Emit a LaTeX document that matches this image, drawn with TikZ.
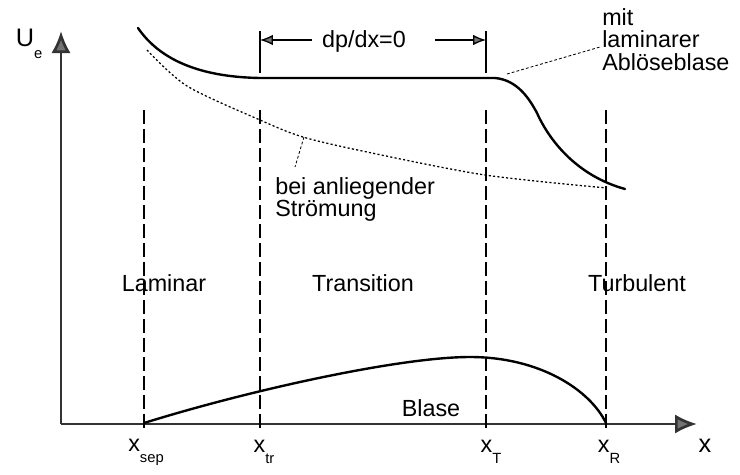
\documentclass[tikz,border=0pt]{standalone}
\usepackage{fontspec}
\setmainfont{Liberation Sans}
\usetikzlibrary{arrows.meta}

\newcommand{\lowsub}[1]{\raisebox{-0.9ex}{\fontsize{10.5}{11}\selectfont #1}}

\begin{document}
\begin{tikzpicture}[
  x=0.025cm, y=-0.025cm,
  font=\fontsize{16.6}{16}\selectfont,
  axis/.style={line width=1.9pt, draw=black!80,
               -{Latex[length=0.55cm, width=0.48cm, fill=black!55]}},
  curve/.style={line width=1.7pt, line cap=round},
  attached/.style={line width=0.9pt, dash pattern=on 1.5pt off 1.6pt},
  guide/.style={line width=0.9pt, dash pattern=on 10pt off 3.5pt},
  leader/.style={line width=0.6pt, dash pattern=on 2pt off 1.5pt},
  span/.style={line width=0.9pt, -{Latex[length=0.32cm, width=0.26cm, fill=black!55]}},
  lbl/.style={inner sep=0pt}
]
\useasboundingbox (0,0) rectangle (740,474);

% ── axes ─────────────────────────────────────────────────────────────────────
\coordinate (origin) at (61,424);
\coordinate (ytip)   at (61,31);
\coordinate (xtip)   at (697,424);
\draw[axis] (origin) -- (ytip);
\draw[axis] (origin) -- (xtip);
\node[lbl, font=\fontsize{18}{18}\selectfont] (ue) at (29,44) {U\lowsub{e}};
\node[lbl, font=\fontsize{18}{18}\selectfont] (xlab) at (705,446) {x};

% ── station lines ────────────────────────────────────────────────────────────
\foreach \nm/\xx in {sep/144, tr/260, T/486, R/606} {
  \coordinate (top\nm) at (\xx,110);
  \coordinate (bot\nm) at (\xx,432);
  \draw[guide] (top\nm) -- (bot\nm);
}
\node[lbl] (lsep) at (146,452) {x\lowsub{sep}};
\node[lbl] (ltr)  at (264,452) {x\lowsub{tr}};
\node[lbl] (lT)   at (491,452) {x\lowsub{T}};
\node[lbl] (lR)   at (609,452) {x\lowsub{R}};

% ── dp/dx=0 span ─────────────────────────────────────────────────────────────
\draw[line width=0.9pt] (260,31) -- (260,73);
\draw[line width=0.9pt] (486,31) -- (486,73);
\node[lbl] (dpdx) at (364,41) {dp/dx=0};
\coordinate (spanL) at (312,40);
\coordinate (spanR) at (435,40);
\draw[span] (spanL) -- (260,40);
\draw[span] (spanR) -- (486,40);

% ── edge velocity ────────────────────────────────────────────────────────────
\draw[curve] (138,28) .. controls (160,60) and (200,77) .. (260,78)
  -- (495,78) .. controls (518,80) and (530,100) .. (537,113)
  .. controls (550,142) and (578,176) .. (625,189);
\draw[attached] plot[smooth] coordinates {(147,50) (187,86) (260,120) (303,137)
  (367,152) (485,175) (607,188)};

% ── annotations ──────────────────────────────────────────────────────────────
\coordinate (attpt) at (304,137);
\coordinate (bubpt) at (507,74);
\node[lbl, anchor=north west, align=left, font=\fontsize{16.6}{14.5}\selectfont]
  (anlieg) at (275,177) {bei anliegender\\Strömung};
\node[lbl, anchor=north west, align=left] (ablos) at (602,8)
  {mit\\laminarer\\Ablöseblase};
\draw[leader] (attpt) -- (295,167);
\draw[leader] (bubpt) -- (600,47);

% ── regions ──────────────────────────────────────────────────────────────────
\node[lbl] (laminar)    at (164,283) {Laminar};
\node[lbl] (transition) at (363,283) {Transition};
\node[lbl] (turbulent)  at (637,283) {Turbulent};

% ── bubble ───────────────────────────────────────────────────────────────────
\draw[curve] (144,423) .. controls (250,390) and (400,357) .. (470,357)
  .. controls (540,357) and (590,390) .. (606,423);
\node[lbl] (blase) at (431,408) {Blase};
\end{tikzpicture}
\end{document}
